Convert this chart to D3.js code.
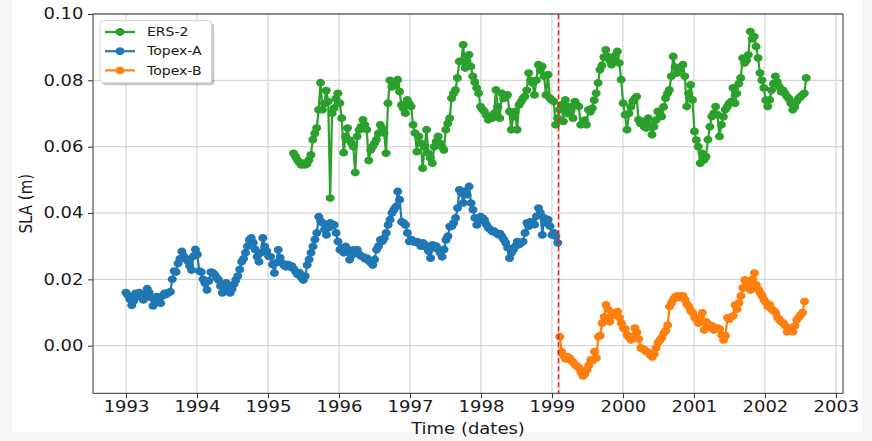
<!DOCTYPE html>
<html>
<head>
<meta charset="utf-8">
<script src="https://cdn.jsdelivr.net/npm/d3@7"></script>
<style>
  html, body { margin: 0; padding: 0; background: #f6f6f6; }
  svg { display: block; font-family: "DejaVu Sans", sans-serif; }
</style>
</head>
<body>
<svg id="chart" width="872" height="441"></svg>
<script>
// ---------------- DATA ----------------
const seriesNames = ["ERS-2", "Topex-A", "Topex-B"];
const seriesColors = ["#2ca02c", "#1f77b4", "#ff7f0e"];

// Start dates (decimal years) and repeat cycle (~9.9156 days) of each series
const ersStart = 1995.36;
const topexAStart = 1993.0;
const topexBStart = 1999.11;
const cycleYears = 0.02715;

// Switch date Topex-A -> Topex-B
const switchYear = 1999.093;

const xTickValues = [1993, 1994, 1995, 1996, 1997, 1998, 1999, 2000, 2001, 2002, 2003];
const yTickValues = [0.00, 0.02, 0.04, 0.06, 0.08, 0.10];

const topexAValues = [
  0.0160,0.0152,0.0140,0.0122,0.0135,0.0158,0.0148,0.0160,0.0150,0.0138,
  0.0155,0.0172,0.0160,0.0145,0.0120,0.0130,0.0148,0.0142,0.0128,0.0150,
  0.0158,0.0155,0.0160,0.0163,0.0200,0.0225,0.0222,0.0248,0.0262,0.0284,
  0.0270,0.0262,0.0255,0.0240,0.0228,0.0270,0.0290,0.0275,0.0225,0.0222,
  0.0200,0.0188,0.0168,0.0195,0.0222,0.0220,0.0215,0.0205,0.0198,0.0180,
  0.0159,0.0170,0.0189,0.0175,0.0159,0.0170,0.0185,0.0198,0.0210,0.0230,
  0.0253,0.0262,0.0280,0.0300,0.0319,0.0325,0.0310,0.0290,0.0268,0.0253,
  0.0280,0.0325,0.0299,0.0285,0.0270,0.0268,0.0245,0.0219,0.0250,0.0289,
  0.0265,0.0249,0.0242,0.0238,0.0245,0.0238,0.0240,0.0232,0.0223,0.0215,
  0.0220,0.0205,0.0198,0.0210,0.0243,0.0260,0.0280,0.0299,0.0320,0.0340,
  0.0389,0.0375,0.0370,0.0350,0.0334,0.0355,0.0370,0.0362,0.0364,0.0340,
  0.0314,0.0289,0.0295,0.0280,0.0299,0.0290,0.0259,0.0272,0.0289,0.0280,
  0.0289,0.0275,0.0270,0.0268,0.0262,0.0264,0.0255,0.0250,0.0243,0.0260,
  0.0289,0.0300,0.0319,0.0315,0.0325,0.0340,0.0364,0.0380,0.0400,0.0410,
  0.0419,0.0465,0.0440,0.0374,0.0370,0.0364,0.0340,0.0314,0.0320,0.0314,
  0.0312,0.0314,0.0308,0.0300,0.0310,0.0305,0.0295,0.0285,0.0264,0.0304,
  0.0295,0.0300,0.0290,0.0280,0.0268,0.0290,0.0319,0.0330,0.0359,0.0360,
  0.0370,0.0385,0.0415,0.0470,0.0460,0.0430,0.0465,0.0455,0.0480,0.0430,
  0.0410,0.0385,0.0364,0.0375,0.0389,0.0385,0.0379,0.0365,0.0355,0.0350,
  0.0344,0.0345,0.0340,0.0335,0.0338,0.0329,0.0320,0.0310,0.0295,0.0264,
  0.0280,0.0289,0.0300,0.0314,0.0305,0.0310,0.0314,0.0340,0.0370,0.0360,
  0.0374,0.0370,0.0365,0.0390,0.0415,0.0400,0.0334,0.0385,0.0370,0.0380,
  0.0360,0.0334,0.0340,0.0330,0.0310
];

const topexBValues = [
  0.0027,-0.0018,-0.0030,-0.0040,-0.0033,-0.0037,-0.0045,-0.0050,-0.0058,-0.0062,
  -0.0067,-0.0080,-0.0091,-0.0085,-0.0073,-0.0060,-0.0043,-0.0045,-0.0018,-0.0037,
  0.0027,0.0030,0.0068,0.0087,0.0123,0.0110,0.0072,0.0090,0.0099,0.0095,
  0.0103,0.0084,0.0068,0.0053,0.0050,0.0032,0.0025,0.0017,0.0027,0.0053,
  0.0040,0.0020,-0.0007,-0.0010,-0.0012,-0.0018,-0.0020,-0.0028,-0.0034,-0.0025,
  -0.0007,0.0010,0.0017,0.0025,0.0038,0.0045,0.0062,0.0118,0.0129,0.0140,
  0.0148,0.0150,0.0145,0.0150,0.0150,0.0138,0.0125,0.0118,0.0105,0.0099,
  0.0085,0.0078,0.0068,0.0085,0.0099,0.0047,0.0072,0.0065,0.0055,0.0060,
  0.0047,0.0050,0.0053,0.0050,0.0032,0.0017,0.0030,0.0084,0.0080,0.0087,
  0.0090,0.0123,0.0110,0.0129,0.0150,0.0174,0.0198,0.0189,0.0175,0.0168,
  0.0200,0.0219,0.0183,0.0170,0.0159,0.0150,0.0138,0.0130,0.0118,0.0123,
  0.0110,0.0105,0.0099,0.0085,0.0078,0.0072,0.0068,0.0060,0.0042,0.0050,
  0.0053,0.0042,0.0060,0.0078,0.0085,0.0093,0.0100,0.0133
];

const ersValues = [
  0.0580,0.0570,0.0560,0.0552,0.0545,0.0550,0.0545,0.0548,0.0560,0.0575,
  0.0621,0.0640,0.0656,0.0711,0.0793,0.0711,0.0730,0.0769,0.0736,0.0445,
  0.0701,0.0716,0.0745,0.0761,0.0731,0.0686,0.0582,0.0630,0.0656,0.0620,
  0.0611,0.0600,0.0522,0.0631,0.0650,0.0660,0.0681,0.0665,0.0651,0.0558,
  0.0590,0.0600,0.0610,0.0621,0.0640,0.0666,0.0655,0.0641,0.0580,0.0731,
  0.0800,0.0780,0.0792,0.0785,0.0802,0.0766,0.0726,0.0715,0.0701,0.0741,
  0.0730,0.0721,0.0666,0.0641,0.0585,0.0631,0.0610,0.0535,0.0600,0.0651,
  0.0580,0.0565,0.0550,0.0600,0.0615,0.0631,0.0610,0.0600,0.0590,0.0651,
  0.0670,0.0686,0.0746,0.0760,0.0771,0.0807,0.0857,0.0857,0.0907,0.0837,
  0.0860,0.0877,0.0842,0.0812,0.0795,0.0777,0.0761,0.0721,0.0712,0.0706,
  0.0695,0.0681,0.0690,0.0686,0.0700,0.0771,0.0720,0.0686,0.0761,0.0745,
  0.0750,0.0756,0.0706,0.0651,0.0690,0.0706,0.0651,0.0726,0.0735,0.0745,
  0.0751,0.0770,0.0822,0.0800,0.0792,0.0756,0.0800,0.0847,0.0830,0.0842,
  0.0812,0.0756,0.0817,0.0746,0.0740,0.0736,0.0666,0.0686,0.0711,0.0726,
  0.0676,0.0741,0.0700,0.0721,0.0710,0.0686,0.0736,0.0725,0.0721,0.0666,
  0.0670,0.0680,0.0666,0.0711,0.0705,0.0716,0.0740,0.0761,0.0792,0.0832,
  0.0845,0.0870,0.0892,0.0872,0.0860,0.0847,0.0860,0.0875,0.0887,0.0852,
  0.0802,0.0731,0.0696,0.0651,0.0700,0.0720,0.0736,0.0745,0.0751,0.0681,
  0.0670,0.0676,0.0660,0.0656,0.0686,0.0665,0.0636,0.0660,0.0680,0.0706,
  0.0700,0.0691,0.0720,0.0746,0.0760,0.0771,0.0812,0.0872,0.0840,0.0822,
  0.0830,0.0840,0.0847,0.0812,0.0721,0.0760,0.0786,0.0741,0.0646,0.0620,
  0.0600,0.0550,0.0580,0.0560,0.0570,0.0621,0.0660,0.0691,0.0700,0.0721,
  0.0696,0.0631,0.0666,0.0690,0.0711,0.0720,0.0730,0.0736,0.0777,0.0731,
  0.0760,0.0790,0.0807,0.0867,0.0852,0.0860,0.0877,0.0947,0.0925,0.0932,
  0.0902,0.0867,0.0822,0.0800,0.0777,0.0740,0.0721,0.0741,0.0770,0.0790,
  0.0812,0.0795,0.0781,0.0766,0.0770,0.0760,0.0751,0.0745,0.0731,0.0711,
  0.0720,0.0736,0.0745,0.0750,0.0756,0.0761,0.0807
];

// ---------------- LAYOUT ----------------
const W = 872, H = 441;
const plot = { left: 93, right: 843, top: 14, bottom: 393.3 };
const STRETCH = 1.2; // reference text is horizontally stretched

const svg = d3.select("#chart");

svg.append("rect").attr("x", 12).attr("y", 0).attr("width", 850).attr("height", 432).attr("fill", "#ffffff");

const x = d3.scaleLinear().domain([1992.535, 2003.10]).range([plot.left, plot.right]);
const y = d3.scaleLinear().domain([-0.01435, 0.10]).range([plot.bottom, plot.top]);

// grid
const grid = svg.append("g");
grid.selectAll("line.gx").data(xTickValues).join("line")
  .attr("x1", d => x(d)).attr("x2", d => x(d))
  .attr("y1", plot.top).attr("y2", plot.bottom)
  .attr("stroke", "#cdcdcd").attr("stroke-width", 1);
grid.selectAll("line.gy").data(yTickValues).join("line")
  .attr("y1", d => y(d)).attr("y2", d => y(d))
  .attr("x1", plot.left).attr("x2", plot.right)
  .attr("stroke", "#cdcdcd").attr("stroke-width", 1);

// series
function buildSeries(values, start) {
  return values.map((v, i) => ({ t: start + i * cycleYears, v }));
}
const seriesData = [
  buildSeries(ersValues, ersStart),
  buildSeries(topexAValues, topexAStart),
  buildSeries(topexBValues, topexBStart)
];

const line = d3.line().x(d => x(d.t)).y(d => y(d.v));

seriesData.forEach((data, si) => {
  const g = svg.append("g");
  g.append("path").datum(data)
    .attr("d", line)
    .attr("fill", "none")
    .attr("stroke", seriesColors[si])
    .attr("stroke-width", 2.2)
    .attr("stroke-linejoin", "round");
  g.selectAll("ellipse").data(data).join("ellipse")
    .attr("cx", d => x(d.t)).attr("cy", d => y(d.v))
    .attr("rx", 4.5).attr("ry", 3.9)
    .attr("fill", seriesColors[si]);
});

// switch line
svg.append("line")
  .attr("x1", x(switchYear)).attr("x2", x(switchYear))
  .attr("y1", plot.top).attr("y2", plot.bottom)
  .attr("stroke", "#ee1c1c").attr("stroke-width", 1.6)
  .attr("stroke-dasharray", "5.5,2.5");

// spines
svg.append("rect")
  .attr("x", plot.left).attr("y", plot.top)
  .attr("width", plot.right - plot.left).attr("height", plot.bottom - plot.top)
  .attr("fill", "none").attr("stroke", "#333").attr("stroke-width", 1);

// axes
const xAxis = svg.append("g")
  .attr("transform", `translate(0,${plot.bottom})`)
  .call(d3.axisBottom(x).tickValues(xTickValues).tickFormat(d3.format("d")).tickSize(5).tickPadding(3));
const yAxis = svg.append("g")
  .attr("transform", `translate(${plot.left},0)`)
  .call(d3.axisLeft(y).tickValues(yTickValues).tickFormat(d3.format(".2f")).tickSize(5).tickPadding(3));

[xAxis, yAxis].forEach(a => {
  a.select(".domain").remove();
  a.selectAll(".tick line").attr("stroke", "#333");
  a.selectAll(".tick text")
    .attr("font-size", 15)
    .attr("font-family", "DejaVu Sans")
    .attr("fill", "#1a1a1a")
    .attr("transform", `scale(${STRETCH},1)`);
});

// axis titles
svg.append("text")
  .attr("transform", `translate(${(plot.left + plot.right) / 2},434) scale(${STRETCH},1)`)
  .attr("text-anchor", "middle")
  .attr("font-size", 15).attr("fill", "#1a1a1a")
  .text("Time (dates)");
svg.append("text")
  .attr("transform", `translate(32,${(plot.top + plot.bottom) / 2}) scale(${STRETCH},1) rotate(-90)`)
  .attr("text-anchor", "middle")
  .attr("font-size", 15).attr("fill", "#1a1a1a")
  .text("SLA (m)");

// legend
const leg = svg.append("g");
const lx = 100, ly = 20.7, lw = 111.7, lh = 62;
leg.append("rect").attr("x", lx + 2.5).attr("y", ly + 2.5).attr("width", lw).attr("height", lh)
  .attr("rx", 3).attr("fill", "#000").attr("opacity", 0.22);
leg.append("rect").attr("x", lx).attr("y", ly).attr("width", lw).attr("height", lh)
  .attr("rx", 3).attr("fill", "#fff").attr("stroke", "#d4d4d4").attr("stroke-width", 1);
const rowY = [32, 51.2, 70.4];
seriesNames.forEach((name, i) => {
  leg.append("line").attr("x1", 105).attr("x2", 135).attr("y1", rowY[i]).attr("y2", rowY[i])
    .attr("stroke", seriesColors[i]).attr("stroke-width", 2.2);
  leg.append("ellipse").attr("cx", 120).attr("cy", rowY[i]).attr("rx", 4.5).attr("ry", 3.9)
    .attr("fill", seriesColors[i]);
  leg.append("text")
    .attr("transform", `translate(147,${rowY[i] + 4.2}) scale(${STRETCH},1)`)
    .attr("font-size", 11.7).attr("fill", "#1a1a1a")
    .text(name);
});
</script>
</body>
</html>
